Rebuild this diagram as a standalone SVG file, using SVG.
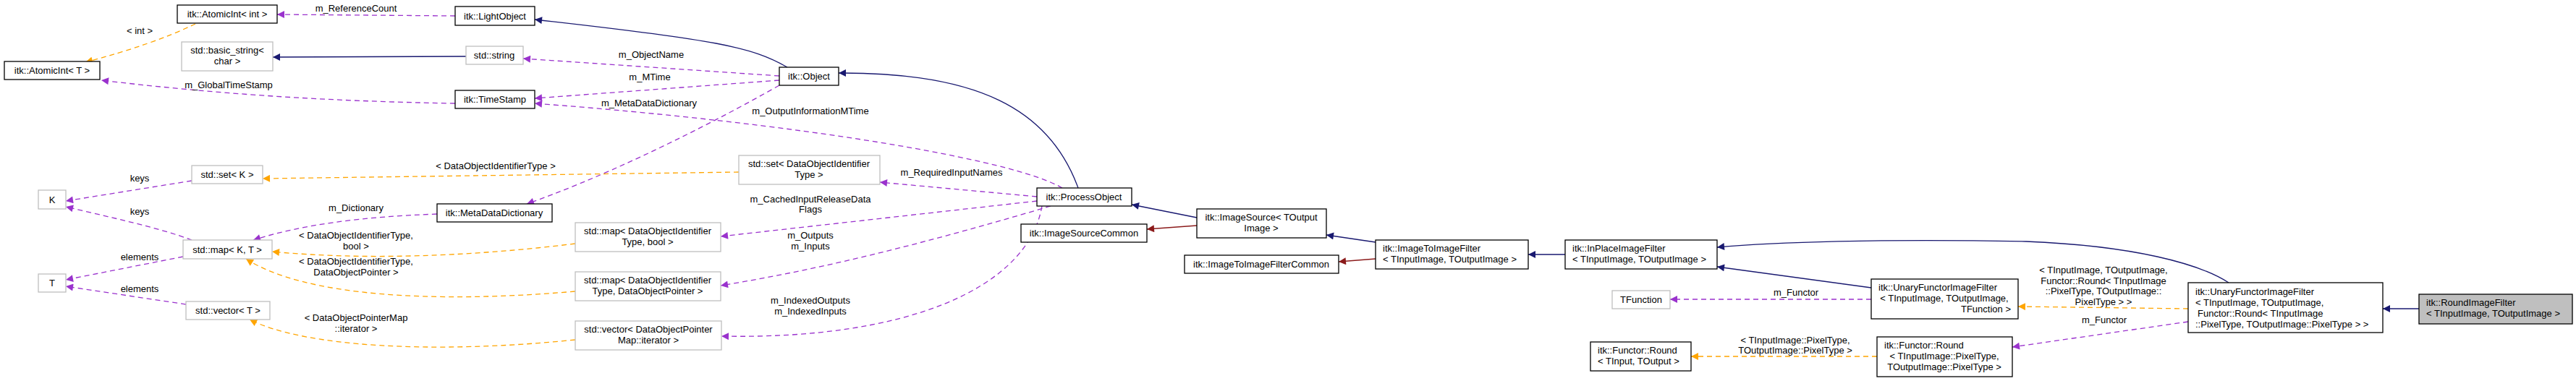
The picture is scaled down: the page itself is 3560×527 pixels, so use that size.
<svg xmlns="http://www.w3.org/2000/svg" width="3560" height="527" viewBox="0 0 3560 527">
<style>
text{font-family:"Liberation Sans",Arial,sans-serif;font-size:13px;fill:#000}
.c{text-anchor:middle}
.b rect{fill:#fff;stroke:#000;stroke-width:1.3}
.g rect{fill:#fff;stroke:#bfbfbf;stroke-width:1.3}
.h rect{fill:#bfbfbf;stroke:#000;stroke-width:1.3}
.e path{fill:none;stroke-width:1.3}
.n{stroke:#191970}
.r{stroke:#8b1a1a}
.p{stroke:#9a32cd;stroke-dasharray:7,5}
.o{stroke:#ffa500;stroke-dasharray:7,5}
</style>
<defs>
<marker id="an" viewBox="0 0 10 10" refX="10" refY="5" markerWidth="13" markerHeight="10" markerUnits="userSpaceOnUse" orient="auto"><path d="M0,0L10,5L0,10z" fill="#191970"/></marker>
<marker id="ar" viewBox="0 0 10 10" refX="10" refY="5" markerWidth="13" markerHeight="10" markerUnits="userSpaceOnUse" orient="auto"><path d="M0,0L10,5L0,10z" fill="#8b1a1a"/></marker>
<marker id="ap" viewBox="0 0 10 10" refX="10" refY="5" markerWidth="13" markerHeight="10" markerUnits="userSpaceOnUse" orient="auto"><path d="M0,0L10,5L0,10z" fill="#9a32cd"/></marker>
<marker id="ao" viewBox="0 0 10 10" refX="10" refY="5" markerWidth="13" markerHeight="10" markerUnits="userSpaceOnUse" orient="auto"><path d="M0,0L10,5L0,10z" fill="#ffa500"/></marker>
</defs>
<g id="connectors" class="e">
<path class="o" marker-end="url(#ao)" d="M270,33 Q210,62 118,86"/>
<path class="p" marker-end="url(#ap)" d="M629,22 L383,20"/>
<path class="n" marker-end="url(#an)" d="M1088,93 C1040,65 990,55 739,27"/>
<path class="n" marker-end="url(#an)" d="M644,78 L377,79"/>
<path class="p" marker-end="url(#ap)" d="M1077,105 L723,81"/>
<path class="p" marker-end="url(#ap)" d="M1077,111 L739,136"/>
<path class="p" marker-end="url(#ap)" d="M1468,260 C1400,220 1100,170 739,143"/>
<path class="p" marker-end="url(#ap)" d="M1077,118 C950,190 820,250 728,282"/>
<path class="p" marker-end="url(#ap)" d="M629,143 C450,140 300,130 140,111"/>
<path class="o" marker-end="url(#ao)" d="M1021,238 L363,247"/>
<path class="p" marker-end="url(#ap)" d="M1433,272 L1216,252"/>
<path class="p" marker-end="url(#ap)" d="M265,250 L91,278"/>
<path class="p" marker-end="url(#ap)" d="M265,332 C220,315 150,300 91,286"/>
<path class="p" marker-end="url(#ap)" d="M604,296 C500,300 420,310 350,332"/>
<path class="o" marker-end="url(#ao)" d="M795,337 C650,355 500,360 376,348"/>
<path class="o" marker-end="url(#ao)" d="M795,403 C600,420 420,410 340,358"/>
<path class="p" marker-end="url(#ap)" d="M253,355 L91,387"/>
<path class="p" marker-end="url(#ap)" d="M257,421 L91,396"/>
<path class="o" marker-end="url(#ao)" d="M795,470 C600,490 420,480 345,442"/>
<path class="p" marker-end="url(#ap)" d="M1433,278 L996,327"/>
<path class="p" marker-end="url(#ap)" d="M1452,285 C1300,330 1150,370 996,395"/>
<path class="p" marker-end="url(#ap)" d="M1440,285 C1420,400 1250,470 997,465"/>
<path class="n" marker-end="url(#an)" d="M1490,260 C1450,150 1350,100 1159,101"/>
<path class="n" marker-end="url(#an)" d="M1654,301 L1564,283"/>
<path class="r" marker-end="url(#ar)" d="M1654,312 L1585,317"/>
<path class="n" marker-end="url(#an)" d="M1901,335 L1833,325"/>
<path class="r" marker-end="url(#ar)" d="M1901,358 L1850,362"/>
<path class="n" marker-end="url(#an)" d="M2163,352 L2112,352"/>
<path class="n" marker-end="url(#an)" d="M2586,398 L2373,369"/>
<path class="n" marker-end="url(#an)" d="M3080,391 C3040,365 2950,340 2800,334 C2600,330 2450,335 2373,342"/>
<path class="o" marker-end="url(#ao)" d="M3024,427 L2789,424"/>
<path class="p" marker-end="url(#ap)" d="M2586,414 L2308,414"/>
<path class="p" marker-end="url(#ap)" d="M3024,445 L2781,480"/>
<path class="o" marker-end="url(#ao)" d="M2594,493 L2337,493"/>
<path class="n" marker-end="url(#an)" d="M3343,427 L3293,427"/>
<text class="c" x="193" y="47">&lt; int &gt;</text>
<text class="c" x="492" y="16">m_ReferenceCount</text>
<text class="c" x="900" y="80">m_ObjectName</text>
<text class="c" x="898" y="111">m_MTime</text>
<text class="c" x="897" y="147">m_MetaDataDictionary</text>
<text class="c" x="1120" y="158">m_OutputInformationMTime</text>
<text class="c" x="316" y="122">m_GlobalTimeStamp</text>
<text class="c" x="685" y="234">&lt; DataObjectIdentifierType &gt;</text>
<text class="c" x="1315" y="243">m_RequiredInputNames</text>
<text class="c" x="193" y="251">keys</text>
<text class="c" x="193" y="297">keys</text>
<text class="c" x="492" y="292">m_Dictionary</text>
<text class="c" x="492" y="330">&lt; DataObjectIdentifierType,</text>
<text class="c" x="492" y="345">bool &gt;</text>
<text class="c" x="492" y="366">&lt; DataObjectIdentifierType,</text>
<text class="c" x="492" y="381">DataObjectPointer &gt;</text>
<text class="c" x="193" y="360">elements</text>
<text class="c" x="193" y="404">elements</text>
<text class="c" x="492" y="444">&lt; DataObjectPointerMap</text>
<text class="c" x="492" y="459">::iterator &gt;</text>
<text class="c" x="1120" y="280">m_CachedInputReleaseData</text>
<text class="c" x="1120" y="294">Flags</text>
<text class="c" x="1120" y="330">m_Outputs</text>
<text class="c" x="1120" y="345">m_Inputs</text>
<text class="c" x="1120" y="420">m_IndexedOutputs</text>
<text class="c" x="1120" y="435">m_IndexedInputs</text>
<text class="c" x="2482" y="409">m_Functor</text>
<text class="c" x="2481" y="475">&lt; TInputImage::PixelType,</text>
<text class="c" x="2481" y="489">TOutputImage::PixelType &gt;</text>
<text class="c" x="2907" y="378">&lt; TInputImage, TOutputImage,</text>
<text class="c" x="2907" y="393">Functor::Round&lt; TInputImage</text>
<text class="c" x="2907" y="407">::PixelType, TOutputImage::</text>
<text class="c" x="2907" y="422">PixelType &gt; &gt;</text>
<text class="c" x="2908" y="447">m_Functor</text>
</g>
<g id="AtomicIntInt" class="b"><rect x="245" y="7" width="138" height="25"/><text class="c" x="314" y="24">itk::AtomicInt&lt; int &gt;</text></g>
<g id="LightObject" class="b"><rect x="629" y="9" width="110" height="26"/><text class="c" x="684" y="27">itk::LightObject</text></g>
<g id="BasicString" class="g"><rect x="251" y="58" width="126" height="40"/><text class="c" x="314" y="74">std::basic_string&lt;</text><text class="c" x="314" y="89">char &gt;</text></g>
<g id="StdString" class="g"><rect x="644" y="64" width="79" height="25"/><text class="c" x="683" y="81">std::string</text></g>
<g id="AtomicIntT" class="b"><rect x="6" y="85" width="132" height="25"/><text class="c" x="72" y="102">itk::AtomicInt&lt; T &gt;</text></g>
<g id="TimeStamp" class="b"><rect x="629" y="125" width="110" height="25"/><text class="c" x="684" y="142">itk::TimeStamp</text></g>
<g id="SetK" class="g"><rect x="265" y="229" width="98" height="25"/><text class="c" x="314" y="246">std::set&lt; K &gt;</text></g>
<g id="K" class="g"><rect x="53" y="263" width="38" height="26"/><text class="c" x="72" y="281">K</text></g>
<g id="MetaDataDictionary" class="b"><rect x="604" y="282" width="159" height="25"/><text class="c" x="683" y="299">itk::MetaDataDictionary</text></g>
<g id="MapKT" class="g"><rect x="253" y="332" width="123" height="26"/><text class="c" x="314" y="350">std::map&lt; K, T &gt;</text></g>
<g id="T" class="g"><rect x="53" y="379" width="38" height="25"/><text class="c" x="72" y="396">T</text></g>
<g id="VectorT" class="g"><rect x="257" y="417" width="116" height="25"/><text class="c" x="315" y="434">std::vector&lt; T &gt;</text></g>
<g id="MapBool" class="g"><rect x="795" y="308" width="201" height="40"/><text class="c" x="895" y="324">std::map&lt; DataObjectIdentifier</text><text class="c" x="895" y="339">Type, bool &gt;</text></g>
<g id="MapPointer" class="g"><rect x="795" y="376" width="201" height="40"/><text class="c" x="895" y="392">std::map&lt; DataObjectIdentifier</text><text class="c" x="895" y="407">Type, DataObjectPointer &gt;</text></g>
<g id="VectorIter" class="g"><rect x="795" y="444" width="202" height="40"/><text class="c" x="896" y="460">std::vector&lt; DataObjectPointer</text><text class="c" x="896" y="475">Map::iterator &gt;</text></g>
<g id="Object" class="b"><rect x="1077" y="93" width="82" height="25"/><text class="c" x="1118" y="110">itk::Object</text></g>
<g id="SetDOIT" class="g"><rect x="1021" y="215" width="195" height="40"/><text class="c" x="1118" y="231">std::set&lt; DataObjectIdentifier</text><text class="c" x="1118" y="246">Type &gt;</text></g>
<g id="ProcessObject" class="b"><rect x="1433" y="260" width="131" height="25"/><text class="c" x="1498" y="277">itk::ProcessObject</text></g>
<g id="ImageSource" class="b"><rect x="1654" y="289" width="179" height="40"/><text class="c" x="1743" y="305">itk::ImageSource&lt; TOutput</text><text class="c" x="1743" y="320">Image &gt;</text></g>
<g id="ImageSourceCommon" class="b"><rect x="1411" y="310" width="174" height="25"/><text class="c" x="1498" y="327">itk::ImageSourceCommon</text></g>
<g id="ImageToImageFilterCommon" class="b"><rect x="1637" y="353" width="213" height="25"/><text class="c" x="1743" y="370">itk::ImageToImageFilterCommon</text></g>
<g id="ImageToImageFilter" class="b"><rect x="1901" y="332" width="211" height="40"/><text x="1911" y="348">itk::ImageToImageFilter</text><text x="1911" y="363">&lt; TInputImage, TOutputImage &gt;</text></g>
<g id="InPlaceImageFilter" class="b"><rect x="2163" y="332" width="210" height="40"/><text x="2173" y="348">itk::InPlaceImageFilter</text><text x="2173" y="363">&lt; TInputImage, TOutputImage &gt;</text></g>
<g id="TFunction" class="g"><rect x="2228" y="402" width="80" height="25"/><text class="c" x="2268" y="419">TFunction</text></g>
<g id="UnaryTFunction" class="b"><rect x="2586" y="386" width="203" height="55"/><text x="2596" y="402">itk::UnaryFunctorImageFilter</text><text class="c" x="2687" y="417">&lt; TInputImage, TOutputImage,</text><text x="2779" y="432" text-anchor="end">TFunction &gt;</text></g>
<g id="FunctorRoundT" class="b"><rect x="2198" y="473" width="139" height="40"/><text x="2208" y="489">itk::Functor::Round</text><text x="2208" y="504">&lt; TInput, TOutput &gt;</text></g>
<g id="FunctorRoundPixel" class="b"><rect x="2594" y="466" width="187" height="55"/><text x="2604" y="482">itk::Functor::Round</text><text class="c" x="2687" y="497">&lt; TInputImage::PixelType,</text><text class="c" x="2687" y="512">TOutputImage::PixelType &gt;</text></g>
<g id="UnaryRound" class="b"><rect x="3024" y="391" width="269" height="69"/><text x="3034" y="408">itk::UnaryFunctorImageFilter</text><text x="3034" y="423">&lt; TInputImage, TOutputImage,</text><text x="3037" y="438">Functor::Round&lt; TInputImage</text><text x="3034" y="453">::PixelType, TOutputImage::PixelType &gt; &gt;</text></g>
<g id="RoundImageFilter" class="h"><rect x="3343" y="407" width="212" height="41"/><text x="3353" y="423">itk::RoundImageFilter</text><text x="3353" y="438">&lt; TInputImage, TOutputImage &gt;</text></g>
</svg>
